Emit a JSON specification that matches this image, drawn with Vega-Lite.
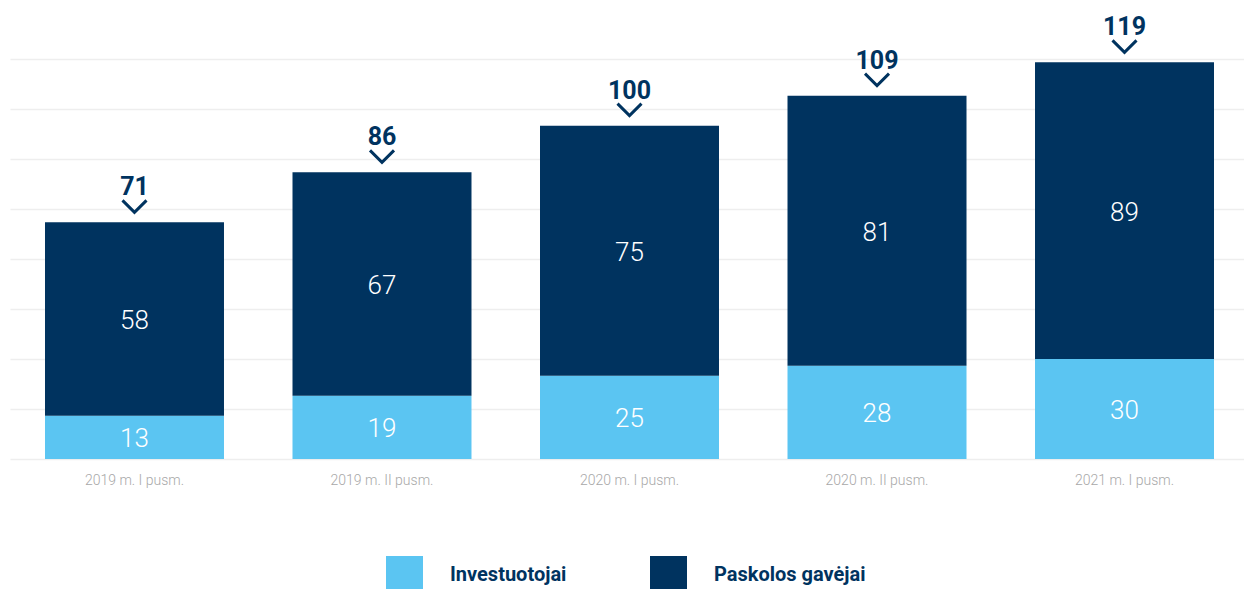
{
  "$schema": "https://vega.github.io/schema/vega-lite/v6.json",
  "width": 1239,
  "height": 400,
  "autosize": "none",
  "padding": {"left": 10, "top": 59, "right": 0, "bottom": 130},
  "config": {"view": {"stroke": null}, "font": "Roboto"},
  "data": {
    "values": [
      {"period": "2019 m. I pusm.", "series": "Investuotojai", "value": 13},
      {"period": "2019 m. I pusm.", "series": "Paskolos gavėjai", "value": 58},
      {"period": "2019 m. II pusm.", "series": "Investuotojai", "value": 19},
      {"period": "2019 m. II pusm.", "series": "Paskolos gavėjai", "value": 67},
      {"period": "2020 m. I pusm.", "series": "Investuotojai", "value": 25},
      {"period": "2020 m. I pusm.", "series": "Paskolos gavėjai", "value": 75},
      {"period": "2020 m. II pusm.", "series": "Investuotojai", "value": 28},
      {"period": "2020 m. II pusm.", "series": "Paskolos gavėjai", "value": 81},
      {"period": "2021 m. I pusm.", "series": "Investuotojai", "value": 30},
      {"period": "2021 m. I pusm.", "series": "Paskolos gavėjai", "value": 89}
    ]
  },
  "encoding": {
    "x": {
      "field": "period",
      "type": "nominal",
      "sort": null,
      "scale": {"paddingInner": 0.2768, "paddingOuter": 0.1414},
      "axis": {
        "title": null,
        "labelAngle": 0,
        "domain": false,
        "ticks": false,
        "labelFontSize": 14,
        "labelColor": "#a8a8a8",
        "labelPadding": 14,
        "labelFontWeight": 300
      }
    }
  },
  "layer": [
    {
      "transform": [
        {"stack": "value", "groupby": ["period"], "sort": [{"field": "series", "order": "ascending"}], "as": ["v0", "v1"]}
      ],
      "mark": {"type": "bar"},
      "encoding": {
        "y": {
          "field": "v0",
          "type": "quantitative",
          "scale": {"domain": [0, 120], "nice": false},
          "axis": {
            "title": null,
            "labels": false,
            "ticks": false,
            "domain": false,
            "grid": true,
            "gridColor": "#eeeeee",
            "gridWidth": 1.5,
            "values": [0, 15, 30, 45, 60, 75, 90, 105, 120]
          }
        },
        "y2": {"field": "v1"},
        "color": {
          "field": "series",
          "type": "nominal",
          "scale": {"domain": ["Investuotojai", "Paskolos gavėjai"], "range": ["#5bc5f2", "#00335f"]},
          "legend": {
            "orient": "none",
            "legendX": 376,
            "legendY": 497,
            "direction": "horizontal",
            "title": null,
            "symbolType": "square",
            "symbolSize": 1369,
            "symbolStrokeWidth": 0,
            "symbolOpacity": 1,
            "labelFontSize": 20,
            "labelFontWeight": "bold",
            "labelColor": "#00335f",
            "labelOffset": 27,
            "columnPadding": 83,
            "padding": 0,
            "labelLimit": 300
          }
        }
      }
    },
    {
      "transform": [
        {"stack": "value", "groupby": ["period"], "sort": [{"field": "series", "order": "ascending"}], "as": ["v0", "v1"]},
        {"fold": ["v0", "v1"], "as": ["edge", "pos"]}
      ],
      "mark": {"type": "text", "color": "white", "fontSize": 26, "fontWeight": 300, "baseline": "middle", "dy": 2},
      "encoding": {
        "y": {"aggregate": "mean", "field": "pos", "type": "quantitative"},
        "detail": {"field": "series", "type": "nominal"},
        "text": {"aggregate": "max", "field": "value", "type": "quantitative"}
      }
    },
    {
      "mark": {
        "type": "point",
        "shape": "M-1,-0.5L0,0.5L1,-0.5",
        "filled": false,
        "stroke": "#00335f",
        "strokeWidth": 3,
        "size": 576,
        "opacity": 1,
        "yOffset": -16
      },
      "encoding": {
        "y": {"aggregate": "sum", "field": "value", "type": "quantitative"}
      }
    },
    {
      "mark": {"type": "text", "dy": -27, "baseline": "alphabetic", "fontSize": 25, "fontWeight": "bold", "color": "#00335f"},
      "encoding": {
        "y": {"aggregate": "sum", "field": "value", "type": "quantitative"},
        "text": {"aggregate": "sum", "field": "value", "type": "quantitative"}
      }
    }
  ]
}
